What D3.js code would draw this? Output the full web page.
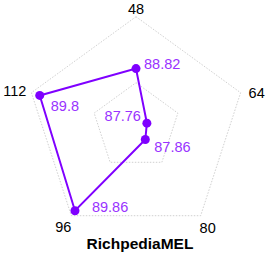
<!DOCTYPE html>
<html>
<head>
<meta charset="utf-8">
<script src="https://cdn.jsdelivr.net/npm/d3@7"></script>
<style>
  body { margin: 0; background: #fff; }
  text { font-family: "Liberation Sans", Arial, sans-serif; }
</style>
</head>
<body>
<div class="chart"></div>
<script>
// axis categories and the values
var axes = ["48", "64", "80", "96", "112"];
var scores = [88.82, 87.76, 87.86, 89.86, 89.8];
var gridLevels = [88.5, 90];
var title = "RichpediaMEL";

var svgWidth = 266;
var svgHeight = 254;
var cx = 136, cy = 126.7;
var radius = 110;

var svg = d3.select(".chart")
  .append("svg")
  .attr("width", svgWidth)
  .attr("height", svgHeight);

var rScale = d3.scaleLinear().domain([87.5, 90]).range([0, radius]);
var angle = d3.scalePoint().domain(axes).range([0, 2 * Math.PI * 4 / 5]);

function pt(axis, r) {
  var a = angle(axis);
  return [cx + r * Math.sin(a), cy - r * Math.cos(a)];
}

var line = d3.line();

// grid pentagons
svg.selectAll(".grid")
  .data(gridLevels)
  .enter()
  .append("path")
  .attr("class", "grid")
  .attr("d", function(lv) {
    return line(axes.map(function(a) { return pt(a, rScale(lv)); })) + "Z";
  })
  .attr("fill", "none")
  .attr("stroke", "#c4c4c4")
  .attr("stroke-width", 0.8)
  .attr("stroke-dasharray", "1.5,1.5");

// axis labels
var labelPos = [
  {dx: 0, dy: -8, anchor: "middle"},
  {dx: 8, dy: 0, anchor: "start"},
  {dx: 7, dy: 12, anchor: "middle"},
  {dx: -8, dy: 11, anchor: "middle"},
  {dx: -5, dy: -2, anchor: "end"}
];
svg.selectAll(".axis-label")
  .data(axes)
  .enter()
  .append("text")
  .attr("class", "axis-label")
  .attr("x", function(d, i) { return pt(d, radius)[0] + labelPos[i].dx; })
  .attr("y", function(d, i) { return pt(d, radius)[1] + labelPos[i].dy; })
  .attr("text-anchor", function(d, i) { return labelPos[i].anchor; })
  .attr("dominant-baseline", "central")
  .attr("font-size", 14.5)
  .attr("fill", "#000")
  .text(function(d) { return d; });

var pts = axes.map(function(a, i) { return pt(a, rScale(scores[i])); });

svg.append("path")
  .attr("d", line(pts) + "Z")
  .attr("fill", "none")
  .attr("stroke", "#7f00ff")
  .attr("stroke-width", 2);

svg.selectAll(".dot")
  .data(pts)
  .enter()
  .append("circle")
  .attr("cx", function(d) { return d[0]; })
  .attr("cy", function(d) { return d[1]; })
  .attr("r", 4.5)
  .attr("fill", "#7f00ff");

// value labels
var valPos = [
  {dx: 8, dy: -5, anchor: "start"},
  {dx: -6, dy: -7, anchor: "end"},
  {dx: 9, dy: 7, anchor: "start"},
  {dx: 17, dy: -4, anchor: "start"},
  {dx: 11, dy: 11, anchor: "start"}
];
svg.selectAll(".val")
  .data(scores)
  .enter()
  .append("text")
  .attr("class", "val")
  .attr("x", function(d, i) { return pts[i][0] + valPos[i].dx; })
  .attr("y", function(d, i) { return pts[i][1] + valPos[i].dy; })
  .attr("text-anchor", function(d, i) { return valPos[i].anchor; })
  .attr("dominant-baseline", "central")
  .attr("font-size", 14.5)
  .attr("fill", "#9933ff")
  .text(function(d) { return d; });

svg.append("text")
  .attr("x", 140)
  .attr("y", 243)
  .attr("text-anchor", "middle")
  .attr("dominant-baseline", "central")
  .attr("font-size", 15.5)
  .attr("font-weight", "bold")
  .attr("fill", "#000")
  .text(title);
</script>
</body>
</html>
